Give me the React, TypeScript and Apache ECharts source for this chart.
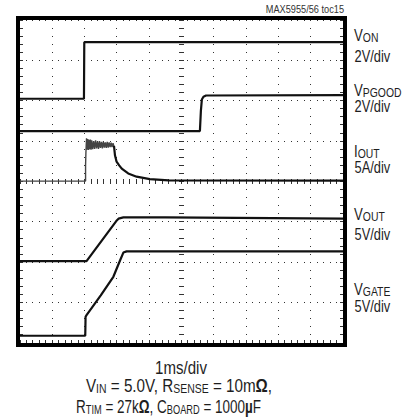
import React, { useEffect, useRef } from "react";
import * as echarts from "echarts";

// Traces, in scope divisions: [time div (0..10), vertical div (0..8)]
const vOn: number[][] = [[0, 6.05], [1.98, 6.05], [1.99, 7.45], [10, 7.45]];
const vPgood: number[][] = [[0, 5.25], [5.57, 5.25], [5.6, 5.75], [5.63, 6.03], [5.68, 6.1], [5.76, 6.13], [10, 6.14]];
const iOut: number[][] = [
  [0, 4.01], [2.03, 4.01], [2.03, 4.4], [2.04, 4.7], [2.06, 5.07], [2.08, 4.79], [2.1, 5.05], [2.12, 4.78], [2.14, 5.03],
  [2.16, 4.8], [2.18, 5.04], [2.2, 4.79], [2.22, 5.02], [2.25, 4.8], [2.28, 5.0], [2.31, 4.81], [2.34, 5.02],
  [2.37, 4.82], [2.4, 4.99], [2.43, 4.81], [2.46, 5.0], [2.49, 4.83], [2.52, 4.98], [2.55, 4.82], [2.58, 4.99],
  [2.61, 4.84], [2.64, 4.97], [2.67, 4.83], [2.7, 4.98], [2.73, 4.84], [2.76, 4.97], [2.79, 4.85], [2.82, 4.96],
  [2.85, 4.85], [2.88, 4.95], [2.91, 4.86],
];
const iOutDecay: number[][] = [
  [2.91, 4.88], [2.94, 4.65], [2.99, 4.49], [3.07, 4.4], [3.15, 4.32], [3.35, 4.2], [3.61, 4.12], [4.02, 4.06], [4.6, 4.03], [10, 4.02],
];
const vOut: number[][] = [[0, 2.03], [2.06, 2.03], [2.98, 3.02], [3.05, 3.08], [3.2, 3.11], [4.5, 3.11], [10, 3.08]];
const vGate: number[][] = [[0, 0.18], [2.02, 0.18], [2.03, 0.65], [2.06, 0.69], [2.5, 1.18], [2.89, 1.64], [3.1, 2.05], [3.2, 2.24], [3.3, 2.27], [10, 2.27]];

const traceNames = ["V_ON", "V_PGOOD", "I_OUT", "V_OUT", "V_GATE"];
const traceMain = ["V", "V", "I", "V", "V"];
const traceSub = ["ON", "PGOOD", "OUT", "OUT", "GATE"];
const traceScale = ["2V/div", "2V/div", "5A/div", "5V/div", "5V/div"];
const figureId = "MAX5955/56 toc15";
const timeBase = "1ms/div";

// scope graticule: 10 x 8 divisions, 5 subdivisions each
const xDivs = 10;
const yDivs = 8;
const subDivs = 5;

const FONT = "'Liberation Sans', Arial, sans-serif";
const INK = "#1e1e1e";

export default function App() {
  const ref = useRef<HTMLDivElement>(null);
  useEffect(() => {
    if (!ref.current) return;
    const chart = echarts.init(ref.current, undefined, { renderer: "svg" });
    const dot = "#333";

    const graticule = (params: any, api: any) => {
      const children: any[] = [];
      const px = (x: number, y: number) => api.coord([x, y]);
      const pix = (x: number, y: number, w: number, h: number) =>
        children.push({ type: "rect", shape: { x, y, width: w, height: h }, style: { fill: dot } });
      const step = 1 / subDivs;
      for (let gx = 1; gx < xDivs; gx++) {
        for (let k = 0; k <= yDivs * subDivs; k++) {
          const p = px(gx, k * step);
          if (gx === xDivs / 2) pix(Math.floor(p[0]) - 2, Math.floor(p[1]), 5, 1);
          else pix(Math.floor(p[0]), Math.floor(p[1]), 1, 1);
        }
      }
      for (let gy = 0; gy <= yDivs; gy++) {
        for (let k = 0; k <= xDivs * subDivs; k++) {
          const p = px(k * step, gy);
          if (gy === yDivs / 2) pix(Math.floor(p[0]), Math.floor(p[1]) - 2, 1, 5);
          else pix(Math.floor(p[0]), Math.floor(p[1]), 1, 1);
        }
      }
      for (let k = 0; k <= yDivs * subDivs; k++) {
        const l = px(0, k * step);
        const r = px(xDivs, k * step);
        pix(Math.floor(l[0]), Math.floor(l[1]), 3, 1);
        pix(Math.floor(r[0]) - 3, Math.floor(r[1]), 3, 1);
      }
      for (let k = 0; k <= xDivs * subDivs; k++) {
        const b = px(k * step, 0);
        pix(Math.floor(b[0]), Math.floor(b[1]) - 3, 1, 3);
      }
      return { type: "group", children };
    };

    const mkLine = (name: string, d: number[][], color: string, width: number) => ({
      type: "line", name, data: d, showSymbol: false, symbol: "none", z: 5,
      lineStyle: { color, width },
    });
    const series: any[] = [
      { type: "custom", name: "graticule", data: [[0, 0]], renderItem: graticule, silent: true, clip: false, z: 1 },
      mkLine(traceNames[0], vOn, "#111", 2.2),
      mkLine(traceNames[1], vPgood, "#111", 2.2),
      mkLine(traceNames[2], iOut, "#444", 1.4),
      mkLine(traceNames[2] + " decay", iOutDecay, "#111", 2.2),
      mkLine(traceNames[3], vOut, "#111", 2.2),
      mkLine(traceNames[4], vGate, "#111", 2.2),
    ];

    const richR = {
      m: { fontSize: 16.5, lineHeight: 16.5, verticalAlign: "bottom", fontFamily: FONT, fill: INK },
      s: { fontSize: 13, lineHeight: 11, verticalAlign: "bottom", fontFamily: FONT, fill: INK },
    };
    const richB = {
      m: { fontSize: 17.5, lineHeight: 17.5, verticalAlign: "bottom", fontFamily: FONT, fill: INK },
      s: { fontSize: 12, lineHeight: 10.5, verticalAlign: "bottom", fontFamily: FONT, fill: INK },
      b: { fontSize: 17.5, lineHeight: 17.5, verticalAlign: "bottom", fontFamily: FONT, fontWeight: "bold", fill: INK },
    };
    const labelY = [35.0, 89.8, 150.8, 214.3, 289.3];
    const scaleY = [56.5, 106.0, 167.0, 234.8, 306.5];
    const graphics: any[] = [
      {
        type: "rect", shape: { x: 18, y: 18, width: 327, height: 327 }, z: 100,
        style: { fill: "none", stroke: "#000", lineWidth: 4 },
      },
      {
        type: "text", x: 344, y: 8.9, z: 100, scaleX: 0.8,
        style: { text: figureId, fontSize: 11.5, fontFamily: FONT, fill: "#333", align: "right", verticalAlign: "middle" },
      },
      {
        type: "text", x: 181, y: 367.2, z: 100, scaleX: 0.86,
        style: { text: timeBase, fontSize: 17.5, fontFamily: FONT, fill: INK, align: "center", verticalAlign: "middle" },
      },
      {
        type: "text", x: 179, y: 385.6, z: 100, scaleX: 0.87,
        style: {
          text: "{m|V}{s|IN}{m| = 5.0V, R}{s|SENSE}{m| = 10m}{b|Ω}{m|,}",
          rich: richB, align: "center", verticalAlign: "middle",
        },
      },
      {
        type: "text", x: 168.5, y: 407.2, z: 100, scaleX: 0.77,
        style: {
          text: "{m|R}{s|TIM}{m| = 27k}{b|Ω}{m|, C}{s|BOARD}{m| = 1000}{b|µ}{m|F}",
          rich: richB, align: "center", verticalAlign: "middle",
        },
      },
    ];
    traceNames.forEach((_, i) => {
      graphics.push({
        type: "text", x: 354, y: labelY[i], z: 100, scaleX: 0.8,
        style: { text: `{m|${traceMain[i]}}{s|${traceSub[i]}}`, rich: richR, align: "left", verticalAlign: "middle" },
      });
      graphics.push({
        type: "text", x: 354.5, y: scaleY[i], z: 100, scaleX: 0.78,
        style: { text: traceScale[i], fontSize: 16.5, fontFamily: FONT, fill: INK, align: "left", verticalAlign: "middle" },
      });
    });

    chart.setOption({
      animation: false,
      backgroundColor: "#fff",
      grid: { left: 20, top: 20, width: 323, height: 323, containLabel: false },
      xAxis: {
        type: "value", min: 0, max: xDivs, interval: 1,
        axisLine: { show: false }, axisLabel: { show: false }, axisTick: { show: false }, splitLine: { show: false },
      },
      yAxis: {
        type: "value", min: 0, max: yDivs, interval: 1,
        axisLine: { show: false }, axisLabel: { show: false }, axisTick: { show: false }, splitLine: { show: false },
      },
      series,
      graphic: graphics,
    });
    return () => chart.dispose();
  }, []);
  return <div ref={ref} style={{ position: "fixed", left: 0, top: 0, width: 418, height: 420 }} />;
}
